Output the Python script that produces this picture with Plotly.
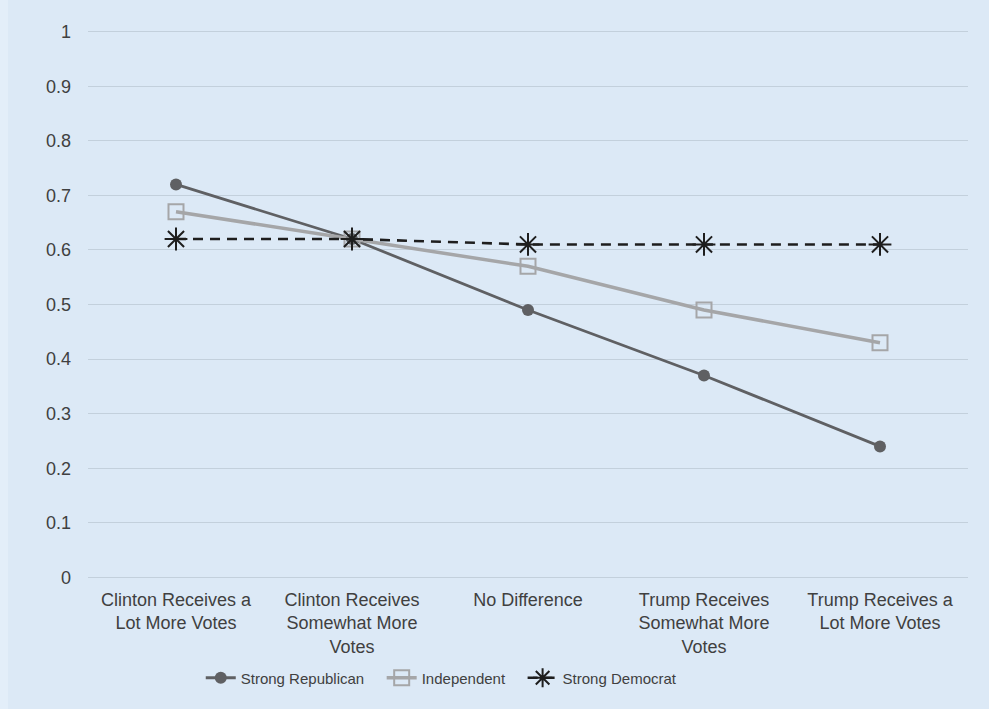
import plotly.graph_objects as go

categories = [
    "Clinton Receives a<br>Lot More Votes",
    "Clinton Receives<br>Somewhat More<br>Votes",
    "No Difference",
    "Trump Receives<br>Somewhat More<br>Votes",
    "Trump Receives a<br>Lot More Votes",
]
strong_republican = [0.72, 0.62, 0.49, 0.37, 0.24]
independent = [0.67, 0.62, 0.57, 0.49, 0.43]
strong_democrat = [0.62, 0.62, 0.61, 0.61, 0.61]
y_ticks = [0, 0.1, 0.2, 0.3, 0.4, 0.5, 0.6, 0.7, 0.8, 0.9, 1]

BG = "#dce9f6"
TEXT = "#404040"
FONT = "Liberation Sans, Arial, sans-serif"
PAD = "\u00a0\u00a0\u00a0"  # extra room between legend entries

fig = go.Figure()
fig.add_trace(go.Scatter(
    x=categories, y=strong_republican, name="Strong Republican" + PAD,
    mode="lines+markers",
    line=dict(color="#5f6063", width=2.8),
    marker=dict(symbol="circle", size=12, color="#5f6063"),
))
fig.add_trace(go.Scatter(
    x=categories, y=independent, name="Independent" + PAD,
    mode="lines+markers",
    line=dict(color="#a5a6a8", width=3.5),
    marker=dict(symbol="square-open", size=15, color="#a5a6a8",
                line=dict(width=2, color="#a5a6a8")),
))
fig.add_trace(go.Scatter(
    x=categories, y=strong_democrat, name="Strong Democrat",
    mode="lines+markers",
    line=dict(color="#1e1e1e", width=2.6, dash="10px,7px"),
    marker=dict(symbol="asterisk-open", size=19, color="#1e1e1e",
                line=dict(width=2, color="#1e1e1e")),
))

# narrow lighter strip along the left edge of the page
fig.add_shape(type="rect", xref="paper", yref="paper",
              x0=-88 / 880, x1=-80 / 880, y0=-130 / 549, y1=1 + 30 / 549,
              fillcolor="#e3eef9", line=dict(width=0), layer="below")

fig.update_layout(
    width=989, height=709,
    paper_bgcolor=BG, plot_bgcolor=BG,
    margin=dict(l=88, r=21, t=30, b=130, autoexpand=False),
    font=dict(family=FONT, size=18, color=TEXT),
    showlegend=True,
    legend=dict(orientation="h", x=0.402, xanchor="center",
                yref="container", y=(709 - 678) / 709, yanchor="middle",
                font=dict(size=15, color=TEXT),
                bgcolor="rgba(0,0,0,0)", tracegroupgap=0),
    xaxis=dict(
        type="category", showgrid=False, zeroline=False,
        showline=False, ticks="", tickfont=dict(size=18, color=TEXT),
        ticklabelstandoff=8, automargin=False,
        range=[-0.5, 4.5],
    ),
    yaxis=dict(
        range=[-0.003, 1.003], tickvals=y_ticks,
        ticktext=[f"{v:g}" for v in y_ticks],
        showgrid=True, gridcolor="#c3d0dc", gridwidth=1.2,
        zeroline=False, showline=False, ticks="",
        ticklabelstandoff=16, automargin=False,
        tickfont=dict(size=18, color=TEXT),
    ),
)

fig.write_html("out.html")
